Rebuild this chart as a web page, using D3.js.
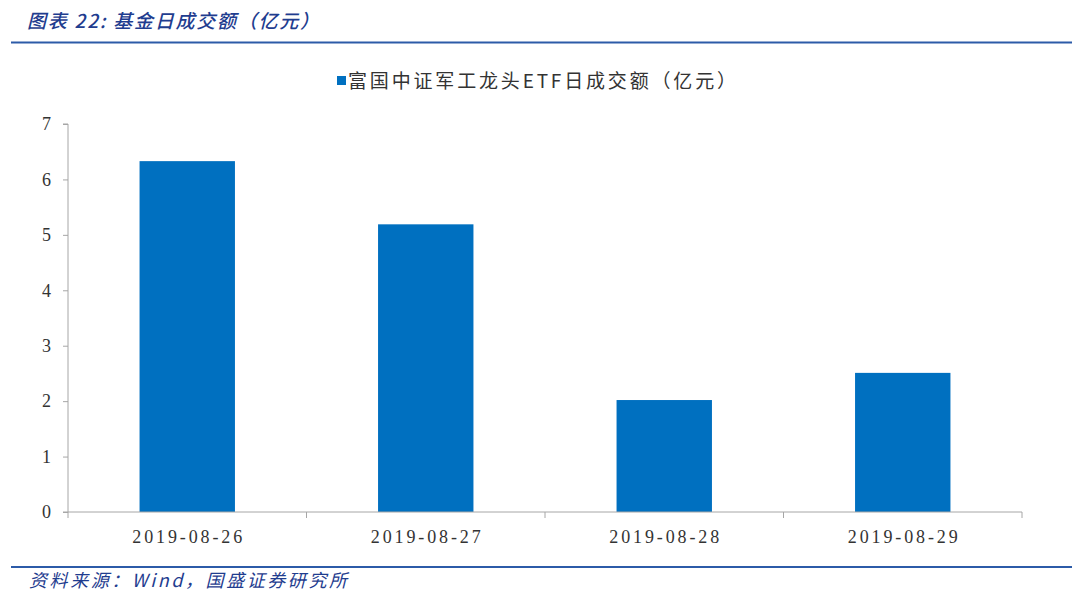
<!DOCTYPE html>
<html><head><meta charset="utf-8">
<script src="https://cdn.jsdelivr.net/npm/d3@7"></script>
<style>
html,body{margin:0;padding:0;background:#fff;}
svg{display:block;}
</style></head>
<body>
<svg id="c" width="1080" height="598"></svg>
<script>
const categories = ["2019-08-26","2019-08-27","2019-08-28","2019-08-29"];
const values = [6.33, 5.19, 2.02, 2.51];
const yTicks = [0,1,2,3,4,5,6,7];
const seriesName = "富国中证军工龙头ETF日成交额（亿元）";
const titleText = "图表 22:  基金日成交额（亿元）";
const sourceText = "资料来源：Wind，国盛证券研究所";

const svg = d3.select("#c");
const m = {left: 68, right: 1022, top: 124, bottom: 512};

// header
svg.append("text").attr("x", 27).attr("y", 28)
  .attr("font-family", "'Noto Sans CJK SC', sans-serif")
  .attr("font-style", "italic").attr("font-weight", 500)
  .attr("font-size", 19).attr("fill", "#1f3d8f")
  .attr("textLength", 292).attr("lengthAdjust", "spacing")
  .text(titleText);
svg.append("line").attr("x1", 11).attr("x2", 1072).attr("y1", 42.5).attr("y2", 42.5)
  .attr("stroke", "#2c5ba8").attr("stroke-width", 2);

// footer
svg.append("line").attr("x1", 11).attr("x2", 1072).attr("y1", 567).attr("y2", 567)
  .attr("stroke", "#2c5ba8").attr("stroke-width", 2);
svg.append("text").attr("x", 29).attr("y", 587)
  .attr("font-family", "'Noto Sans CJK SC', sans-serif")
  .attr("font-style", "italic")
  .attr("font-size", 18).attr("fill", "#1f3d8f")
  .attr("textLength", 318).attr("lengthAdjust", "spacing")
  .text(sourceText);

// scales
const x = d3.scaleBand().domain(categories).range([m.left, m.right]).padding(0);
const y = d3.scaleLinear().domain([0, 7]).range([m.bottom, m.top]);

// legend
svg.append("rect").attr("x", 337).attr("y", 76).attr("width", 9).attr("height", 9).attr("fill", "#0070c0");
svg.append("text").attr("x", 348).attr("y", 88)
  .attr("font-family", "'Noto Sans CJK SC', serif")
  .attr("font-size", 19).attr("fill", "#333")
  .attr("textLength", 388).attr("lengthAdjust", "spacing")
  .text(seriesName);

// bars
const bw = x.bandwidth() * 0.4;
svg.append("g").selectAll("rect").data(values).join("rect")
  .attr("x", (d, i) => x(categories[i]) + x.bandwidth() / 2 - bw / 2)
  .attr("width", bw)
  .attr("y", d => y(d))
  .attr("height", d => y(0) - y(d))
  .attr("fill", "#0070c0");

// y axis
const yAxis = d3.axisLeft(y).tickValues(yTicks).tickSize(5).tickPadding(12).tickFormat(d3.format("d"));
const gy = svg.append("g").attr("transform", `translate(${m.left},0)`).call(yAxis);
gy.select(".domain").attr("stroke", "#a6a6a6").attr("d", `M-5,${m.top}H0V${m.bottom}`);
gy.selectAll(".tick line").attr("stroke", "#a6a6a6");
gy.selectAll(".tick text").attr("font-family", "'Liberation Serif', serif").attr("font-size", 18).attr("fill", "#333");

// x axis
const gx = svg.append("g").attr("transform", `translate(0,${m.bottom})`);
gx.append("line").attr("x1", m.left - 5).attr("x2", m.right).attr("y1", 0).attr("y2", 0).attr("stroke", "#a6a6a6");
const bounds = categories.map(c => x(c)).concat([m.right]);
gx.selectAll("line.tk").data(bounds).join("line").attr("class", "tk")
  .attr("x1", d => d).attr("x2", d => d).attr("y1", 0).attr("y2", 6).attr("stroke", "#a6a6a6");
gx.selectAll("text").data(categories).join("text")
  .attr("x", d => x(d) + x.bandwidth() / 2)
  .attr("y", 31)
  .attr("text-anchor", "middle")
  .attr("font-family", "'Liberation Serif', serif")
  .attr("font-size", 18).attr("fill", "#333")
  .attr("textLength", 110).attr("lengthAdjust", "spacing")
  .text(d => d);
</script>
</body></html>
